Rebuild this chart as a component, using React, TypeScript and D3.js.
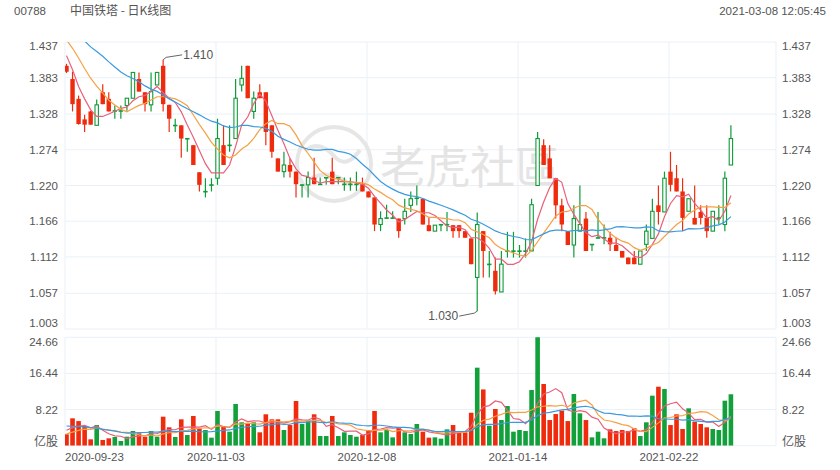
import React from "react";
import * as d3 from "d3";

// ---------- data ----------
const priorCloses = [1.50, 1.49, 1.50, 1.49, 1.48, 1.49, 1.50, 1.49, 1.48, 1.47, 1.47, 1.46, 1.47, 1.46, 1.46, 1.45, 1.44, 1.405, 1.395];
const opens = [
  1.401, 1.381, 1.351, 1.320, 1.332, 1.311, 1.361, 1.351, 1.332, 1.332,
  1.341, 1.352, 1.381, 1.361, 1.342, 1.372, 1.401, 1.342, 1.310, 1.311,
  1.290, 1.281, 1.240, 1.210, 1.221, 1.231, 1.281, 1.280, 1.291, 1.372,
  1.401, 1.332, 1.361, 1.361, 1.311, 1.261, 1.241, 1.251, 1.241, 1.220,
  1.221, 1.232, 1.221, 1.231, 1.241, 1.231, 1.222, 1.222, 1.221, 1.222,
  1.211, 1.202, 1.161, 1.170, 1.170, 1.170, 1.170, 1.190, 1.200, 1.200,
  1.160, 1.151, 1.160, 1.160, 1.160, 1.160, 1.151, 1.140, 1.081, 1.151,
  1.100, 1.091, 1.059, 1.120, 1.120, 1.120, 1.120, 1.121, 1.220, 1.281,
  1.261, 1.231, 1.190, 1.151, 1.130, 1.151, 1.170, 1.130, 1.140, 1.140,
  1.141, 1.130, 1.121, 1.111, 1.111, 1.101, 1.131, 1.140, 1.190, 1.180,
  1.241, 1.231, 1.211, 1.181, 1.171, 1.180, 1.171, 1.151, 1.170, 1.161,
  1.251,
];
const highs = [
  1.404, 1.392, 1.356, 1.327, 1.333, 1.350, 1.373, 1.361, 1.341, 1.341,
  1.352, 1.391, 1.391, 1.361, 1.391, 1.391, 1.410, 1.342, 1.321, 1.311,
  1.291, 1.281, 1.240, 1.231, 1.231, 1.321, 1.311, 1.311, 1.381, 1.401,
  1.401, 1.362, 1.373, 1.361, 1.311, 1.261, 1.271, 1.261, 1.241, 1.221,
  1.241, 1.262, 1.232, 1.232, 1.262, 1.232, 1.232, 1.232, 1.241, 1.232,
  1.211, 1.202, 1.181, 1.191, 1.181, 1.170, 1.200, 1.211, 1.220, 1.200,
  1.171, 1.160, 1.161, 1.180, 1.160, 1.160, 1.151, 1.140, 1.179, 1.151,
  1.121, 1.111, 1.121, 1.150, 1.150, 1.130, 1.140, 1.200, 1.301, 1.290,
  1.281, 1.231, 1.200, 1.151, 1.190, 1.220, 1.180, 1.131, 1.180, 1.161,
  1.150, 1.141, 1.121, 1.111, 1.121, 1.121, 1.161, 1.200, 1.220, 1.241,
  1.271, 1.251, 1.231, 1.200, 1.220, 1.190, 1.190, 1.181, 1.190, 1.241,
  1.311,
];
const lows = [
  1.390, 1.332, 1.312, 1.301, 1.312, 1.311, 1.343, 1.332, 1.321, 1.321,
  1.333, 1.352, 1.362, 1.332, 1.332, 1.372, 1.332, 1.301, 1.301, 1.262,
  1.271, 1.251, 1.211, 1.202, 1.211, 1.221, 1.251, 1.271, 1.291, 1.362,
  1.352, 1.321, 1.352, 1.281, 1.262, 1.241, 1.232, 1.232, 1.202, 1.202,
  1.202, 1.222, 1.221, 1.221, 1.222, 1.222, 1.212, 1.212, 1.212, 1.211,
  1.202, 1.151, 1.151, 1.170, 1.170, 1.141, 1.161, 1.180, 1.190, 1.161,
  1.151, 1.151, 1.151, 1.151, 1.141, 1.141, 1.141, 1.101, 1.030, 1.081,
  1.081, 1.055, 1.059, 1.111, 1.111, 1.111, 1.111, 1.121, 1.220, 1.251,
  1.231, 1.170, 1.151, 1.130, 1.111, 1.151, 1.121, 1.121, 1.140, 1.131,
  1.121, 1.121, 1.111, 1.101, 1.101, 1.101, 1.121, 1.140, 1.161, 1.180,
  1.211, 1.211, 1.151, 1.181, 1.161, 1.161, 1.141, 1.151, 1.161, 1.151,
  1.251,
];
const closes = [
  1.392, 1.343, 1.313, 1.312, 1.312, 1.342, 1.343, 1.332, 1.333, 1.333,
  1.352, 1.391, 1.362, 1.343, 1.362, 1.391, 1.343, 1.321, 1.311, 1.291,
  1.291, 1.251, 1.221, 1.211, 1.221, 1.291, 1.251, 1.281, 1.352, 1.382,
  1.352, 1.352, 1.352, 1.301, 1.271, 1.241, 1.251, 1.241, 1.222, 1.221,
  1.232, 1.222, 1.222, 1.232, 1.222, 1.232, 1.222, 1.222, 1.222, 1.211,
  1.202, 1.161, 1.170, 1.171, 1.171, 1.151, 1.181, 1.200, 1.201, 1.161,
  1.151, 1.160, 1.161, 1.161, 1.151, 1.151, 1.141, 1.101, 1.161, 1.121,
  1.101, 1.060, 1.101, 1.121, 1.121, 1.121, 1.121, 1.191, 1.291, 1.251,
  1.231, 1.190, 1.161, 1.130, 1.170, 1.161, 1.121, 1.131, 1.141, 1.141,
  1.131, 1.121, 1.111, 1.101, 1.101, 1.121, 1.151, 1.181, 1.180, 1.231,
  1.221, 1.211, 1.171, 1.200, 1.161, 1.171, 1.151, 1.181, 1.171, 1.231,
  1.291,
];
const priorVolumes = [7.5, 5.8, 6.9, 5.2, 6.6, 7.1, 5.5, 6.0, 6.4, 5.6, 2.2, 1.6, 2.0, 1.8, 1.9, 3.2, 4.1, 3.5, 4.1];
const volumes = [
  2.6, 6.23, 5.6, 4.48, 1.45, 4.7, 1.3, 1.68, 1.98, 1.07,
  2.05, 3.34, 2.82, 2.05, 3.34, 2.05, 6.6, 4.18, 1.98, 6.0,
  2.43, 6.76, 3.96, 3.57, 1.83, 7.9, 4.48, 3.19, 9.49, 5.32,
  4.94, 5.32, 3.04, 7.14, 6.0, 6.0, 3.57, 4.7, 10.17, 4.94,
  5.6, 7.14, 2.2, 2.2, 6.76, 2.2, 3.04, 2.43, 2.05, 2.43,
  3.57, 7.9, 3.04, 3.57, 1.9, 4.1, 3.04, 2.67, 4.94, 3.19,
  1.83, 1.9, 1.6, 3.72, 4.7, 3.04, 3.04, 7.5, 17.75, 12.8,
  4.55, 8.35, 5.84, 9.03, 3.19, 3.57, 3.34, 12.67, 25.2, 14.04,
  5.84, 7.2, 7.97, 5.6, 11.76, 7.36, 5.84, 1.9, 3.19, 1.68,
  3.72, 3.34, 3.57, 3.34, 3.96, 2.2, 5.32, 11.38, 13.42, 12.9,
  4.7, 7.14, 3.8, 8.5, 5.46, 4.94, 4.18, 3.8, 3.57, 10.24,
  11.7,
];
const priceTicks = ["1.437", "1.383", "1.328", "1.274", "1.220", "1.166", "1.112", "1.057", "1.003"];
const volTicks = ["24.66", "16.44", "8.22"];
const dateLabels = ["2020-09-23", "2020-11-03", "2020-12-08", "2021-01-14", "2021-02-22"];
const dateIndex = [0, 25, 50, 75, 100];
const maPeriods = [5, 10, 20];
const maColors = ["#e8607c", "#f7a043", "#3a9ae0"];

// ---------- layout / style ----------
const W = 840;
const H = 470;
const LEFT = 65;
const RIGHT = 776;
const P_TOP = 42;
const P_BOT = 329;
const V_TOP = 337.3;
const V_BOT = 445.7;
const RED = "#ef2b0d";
const GREEN = "#0f9b38";
const GRID = "#e9f1f7";
const TXT = "#555";
const FS = 11.5;
const FONT = "'Liberation Sans', Arial, 'Noto Sans CJK SC', sans-serif";

function movingAverage(vals: number[], prior: number[], n: number): (number | null)[] {
  const all = prior.concat(vals);
  const off = prior.length;
  return vals.map((_, i) => {
    const j = i + off;
    if (j - n + 1 < 0) return null;
    return d3.mean(all.slice(j - n + 1, j + 1)) as number;
  });
}

export default function App() {
  const n = closes.length;
  const x = d3.scaleLinear().domain([0, n - 1]).range([66.5, 730.9]);
  const yP = d3.scaleLinear().domain([1.003, 1.437]).range([P_BOT, P_TOP]);
  const yV = d3.scaleLinear().domain([0, 24.66]).range([V_BOT, V_TOP]);
  const bodyW = 4.4;
  const volW = 4.6;

  const priceMAs = maPeriods.map((p) => movingAverage(closes, priorCloses, p));
  const volMAs = maPeriods.map((p) => movingAverage(volumes, priorVolumes, p));

  const lineP = d3
    .line<number | null>()
    .defined((d) => d != null)
    .x((_, i) => x(i))
    .y((d) => yP(d as number));
  const lineV = d3
    .line<number | null>()
    .defined((d) => d != null)
    .x((_, i) => x(i))
    .y((d) => yV(d as number));

  const priceTickVals = priceTicks.map(Number);
  const up = (i: number) => closes[i] >= opens[i];

  // extremes
  const maxHigh = d3.max(highs) as number;
  const iMax = highs.indexOf(maxHigh);
  const minLow = d3.min(lows) as number;
  const iMin = lows.indexOf(minLow);

  const clampLabel = (y: number, lo: number, hi: number) => Math.max(lo, Math.min(hi, y));

  return (
    <svg
      width={W}
      height={H}
      style={{ position: "fixed", left: 0, top: 0, background: "#fff" }}
      fontFamily={FONT}
    >
      <defs>
        <clipPath id="pclip">
          <rect x={LEFT} y={P_TOP} width={RIGHT - LEFT} height={P_BOT - P_TOP} />
        </clipPath>
        <clipPath id="vclip">
          <rect x={LEFT} y={V_TOP} width={RIGHT - LEFT} height={V_BOT - V_TOP} />
        </clipPath>
      </defs>

      {/* header */}
      <text x={14} y={15} fontSize={FS} fill={TXT}>00788</text>
      <text x={70} y={15} fontSize={12} fill={TXT} fontFamily="'Noto Sans CJK SC', sans-serif">中国铁塔 - 日K线图</text>
      <text x={826} y={15} fontSize={FS} fill={TXT} textAnchor="end">2021-03-08 12:05:45</text>

      {/* grid: price */}
      {priceTickVals.map((v, k) => (
        <line key={"pg" + k} x1={LEFT} x2={RIGHT} y1={yP(v)} y2={yP(v)} stroke={GRID} strokeWidth={1} />
      ))}
      {/* grid: volume */}
      {[24.66, 16.44, 8.22, 0].map((v, k) => (
        <line key={"vg" + k} x1={LEFT} x2={RIGHT} y1={yV(v)} y2={yV(v)} stroke={GRID} strokeWidth={1} />
      ))}
      {/* vertical grid */}
      {[LEFT, RIGHT].map((xx, k) => (
        <g key={"vb" + k}>
          <line x1={xx} x2={xx} y1={P_TOP} y2={P_BOT} stroke={GRID} />
          <line x1={xx} x2={xx} y1={V_TOP} y2={V_BOT} stroke={GRID} />
        </g>
      ))}
      {dateIndex.slice(1).map((di, k) => (
        <g key={"dg" + k}>
          <line x1={x(di) - 1.5} x2={x(di) - 1.5} y1={P_TOP} y2={P_BOT} stroke={GRID} />
          <line x1={x(di) - 1.5} x2={x(di) - 1.5} y1={V_TOP} y2={V_BOT} stroke={GRID} />
        </g>
      ))}

      {/* watermark */}
      <g opacity={0.9}>
        <circle cx={334} cy={164} r={37} fill="none" stroke="#e4e4e4" strokeWidth={4} />
        <path d="M306 150 Q320 140 334 156 Q346 170 360 150" fill="none" stroke="#e4e4e4" strokeWidth={4} />
        <path d="M312 178 Q330 168 352 186" fill="none" stroke="#e4e4e4" strokeWidth={4} />
        <text
          x={380}
          y={164}
          fontSize={45}
          fill="#e2e2e2"
          dominantBaseline="central"
          fontFamily="'Noto Sans CJK TC', 'Noto Sans CJK SC', sans-serif"
        >
          老虎社區
        </text>
      </g>

      {/* y labels price */}
      {priceTicks.map((t, k) => {
        const yy = clampLabel(yP(priceTickVals[k]), P_TOP + 4, P_BOT - 6);
        return (
          <g key={"pl" + k}>
            <text x={58} y={yy} fontSize={FS} fill={TXT} textAnchor="end" dominantBaseline="central">{t}</text>
            <text x={782} y={yy} fontSize={FS} fill={TXT} dominantBaseline="central">{t}</text>
          </g>
        );
      })}
      {/* y labels volume */}
      {volTicks.map((t, k) => {
        const yy = clampLabel(yV(Number(t)), V_TOP + 4.5, V_BOT);
        return (
          <g key={"vl" + k}>
            <text x={58} y={yy} fontSize={FS} fill={TXT} textAnchor="end" dominantBaseline="central">{t}</text>
            <text x={782} y={yy} fontSize={FS} fill={TXT} dominantBaseline="central">{t}</text>
          </g>
        );
      })}
      <text x={58} y={V_BOT - 5} fontSize={12} fill={TXT} textAnchor="end" dominantBaseline="central" fontFamily="'Noto Sans CJK SC', sans-serif">亿股</text>
      <text x={782} y={V_BOT - 5} fontSize={12} fill={TXT} dominantBaseline="central" fontFamily="'Noto Sans CJK SC', sans-serif">亿股</text>

      {/* date labels */}
      {dateLabels.map((d, k) => (
        <text
          key={"dl" + k}
          x={k === 0 ? LEFT : x(dateIndex[k]) - 1.5}
          y={457}
          fontSize={FS}
          fill={TXT}
          textAnchor={k === 0 ? "start" : "middle"}
          dominantBaseline="central"
        >
          {d}
        </text>
      ))}

      {/* candles */}
      <g clipPath="url(#pclip)">
        {closes.map((c, i) => {
          const o = opens[i];
          const isUp = up(i);
          const col = isUp ? GREEN : RED;
          const top = yP(Math.max(o, c));
          const bot = yP(Math.min(o, c));
          const h = Math.max(1.2, bot - top);
          const cx = x(i);
          return (
            <g key={"c" + i}>
              <line x1={cx} x2={cx} y1={yP(highs[i])} y2={yP(lows[i])} stroke={col} strokeWidth={1.2} />
              {isUp ? (
                h > 2 ? (
                  <rect x={cx - bodyW / 2 + 0.5} y={top} width={bodyW - 1} height={h} fill="#fff" stroke={col} strokeWidth={1.1} />
                ) : (
                  <rect x={cx - bodyW / 2} y={top - 0.6} width={bodyW} height={1.6} fill={col} />
                )
              ) : (
                <rect x={cx - bodyW / 2} y={top} width={bodyW} height={h} fill={col} />
              )}
            </g>
          );
        })}
        {priceMAs.map((m, k) => (
          <path key={"pma" + k} d={lineP(m) || ""} fill="none" stroke={maColors[k]} strokeWidth={1.2} />
        ))}
      </g>

      {/* extreme annotations */}
      <polyline
        points={`${x(iMax)},${yP(maxHigh)} ${x(iMax) + 3},${yP(maxHigh) - 2.5} ${x(iMax) + 19},${yP(maxHigh) - 5}`}
        fill="none"
        stroke="#666"
        strokeWidth={1}
      />
      <text x={x(iMax) + 20} y={yP(maxHigh) - 5} fontSize={12} fill={TXT} dominantBaseline="central">
        {maxHigh.toFixed(3)}
      </text>
      <polyline
        points={`${x(iMin)},${yP(minLow)} ${x(iMin) - 3},${yP(minLow) + 2} ${x(iMin) - 18},${yP(minLow) + 5}`}
        fill="none"
        stroke="#666"
        strokeWidth={1}
      />
      <text x={x(iMin) - 19} y={yP(minLow) + 5} fontSize={12} fill={TXT} textAnchor="end" dominantBaseline="central">
        {minLow.toFixed(3)}
      </text>

      {/* volume */}
      <g clipPath="url(#vclip)">
        {volumes.map((v, i) => (
          <rect
            key={"v" + i}
            x={x(i) - volW / 2}
            y={yV(v)}
            width={volW}
            height={V_BOT - yV(v)}
            fill={up(i) ? "#12a03b" : RED}
          />
        ))}
        {volMAs.map((m, k) => (
          <path key={"vma" + k} d={lineV(m) || ""} fill="none" stroke={maColors[k]} strokeWidth={1.2} />
        ))}
      </g>
    </svg>
  );
}
